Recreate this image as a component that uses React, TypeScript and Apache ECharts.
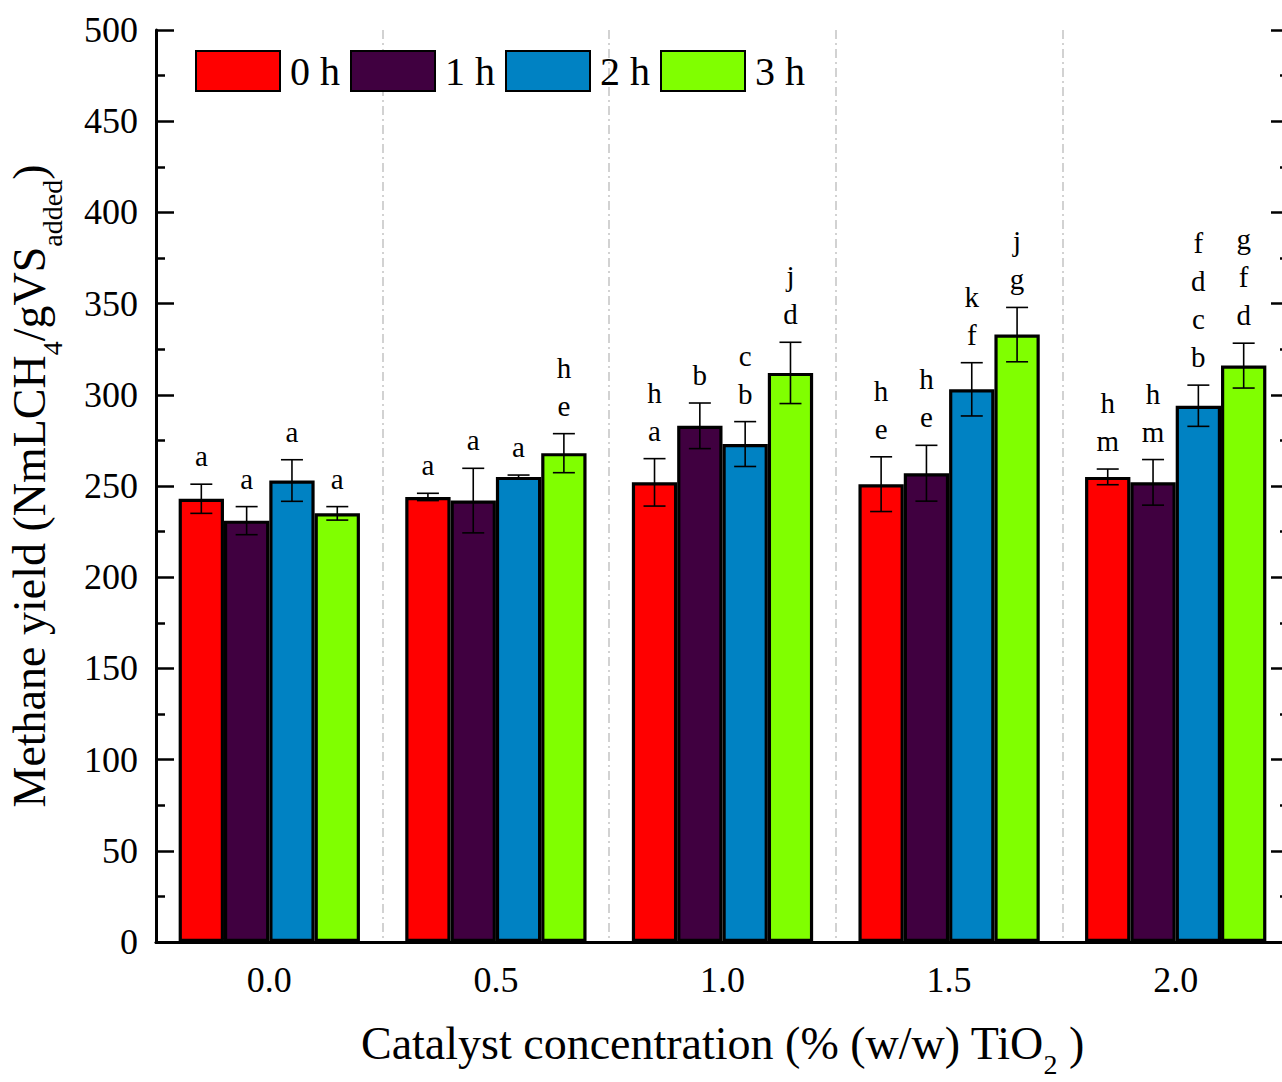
import React, { useEffect, useRef } from "react";
import * as echarts from "echarts";

const categories = ["0.0", "0.5", "1.0", "1.5", "2.0"];
const seriesNames = ["0 h", "1 h", "2 h", "3 h"];
const colors = ["#FF0000", "#400040", "#0082C3", "#80FF00"];

const yield0h = [243, 244, 252, 251, 255];
const yield1h = [231, 242, 283, 257, 252];
const yield2h = [253, 255, 273, 303, 294];
const yield3h = [235, 268, 312, 333, 316];

const err0h = [8, 2, 13, 15, 4.3];
const err1h = [7.7, 17.7, 12.5, 15.3, 12.5];
const err2h = [11.4, 1, 12.3, 14.6, 11.3];
const err3h = [3.7, 10.7, 16.8, 14.9, 12.3];

const letters0h = ["a", "a", "h\na", "h\ne", "h\nm"];
const letters1h = ["a", "a", "b", "h\ne", "h\nm"];
const letters2h = ["a", "a", "c\nb", "k\nf", "f\nd\nc\nb"];
const letters3h = ["a", "h\ne", "j\nd", "j\ng", "g\nf\nd"];

const yTicks = { min: 0, max: 500, interval: 50 };

const FONT = "'Liberation Serif', 'Times New Roman', serif";

export default function App() {
  const ref = useRef<HTMLDivElement>(null);

  useEffect(() => {
    if (!ref.current) return;
    const chart = echarts.init(ref.current, undefined, { renderer: "svg" });

    const values = [yield0h, yield1h, yield2h, yield3h];
    const errs = [err0h, err1h, err2h, err3h];
    const letters = [letters0h, letters1h, letters2h, letters3h];
    const nSeries = values.length;
    const catGap = 0.2;

    const errData: any[] = [];
    values.forEach((vals, s) => {
      vals.forEach((v, c) => {
        errData.push([c, v, errs[s][c], s, letters[s][c]]);
      });
    });

    const barSeries = values.map((vals, s) => ({
      name: seriesNames[s],
      type: "bar",
      data: vals,
      barGap: "0%",
      barCategoryGap: "20%",
      itemStyle: { color: colors[s], borderColor: "#000", borderWidth: 3.2 },
      z: 2,
    }));

    const errSeries = {
      type: "custom",
      z: 10,
      silent: true,
      data: errData,
      encode: { x: 0, y: 1 },
      renderItem: (params: any, api: any) => {
        const c = api.value(0);
        const v = api.value(1);
        const e = api.value(2);
        const s = api.value(3);
        const label = errData[params.dataIndex][4];
        const band = api.size([1, 0])[0];
        const barW = (band * (1 - catGap)) / nSeries;
        const center = api.coord([c, v]);
        const cx = center[0] + (s - (nSeries - 1) / 2) * barW;
        const top = api.coord([c, v + e])[1];
        const bot = api.coord([c, v - e])[1];
        const cap = 11;
        const ls = { stroke: "#000", lineWidth: 1.6 };
        return {
          type: "group",
          children: [
            { type: "line", shape: { x1: cx, y1: top, x2: cx, y2: bot }, style: ls },
            { type: "line", shape: { x1: cx - cap, y1: top, x2: cx + cap, y2: top }, style: ls },
            { type: "line", shape: { x1: cx - cap, y1: bot, x2: cx + cap, y2: bot }, style: ls },
            {
              type: "text",
              x: cx,
              y: top - 9,
              style: {
                text: label,
                fill: "#000",
                font: `29px ${FONT}`,
                fontSize: 29,
                fontFamily: FONT,
                lineHeight: 38,
                align: "center",
                textAlign: "center",
                verticalAlign: "bottom",
                textVerticalAlign: "bottom",
              },
            },
          ],
        };
      },
    };

    const yAxisCommon = {
      type: "value",
      min: yTicks.min,
      max: yTicks.max,
      interval: yTicks.interval,
      splitLine: { show: false },
      axisLine: { show: true, lineStyle: { color: "#000", width: 3 } },
      axisTick: { show: true, inside: true, length: 18, lineStyle: { color: "#000", width: 2.5 } },
      minorTick: { show: true, splitNumber: 2, length: 9, lineStyle: { color: "#000", width: 2.5 } },
    };

    const subRichX = {
      sub: { fontSize: 28, fontFamily: FONT, color: "#000", verticalAlign: "bottom", lineHeight: 70 },
    };
    const subRichY = {
      sub: { fontSize: 28, fontFamily: FONT, color: "#000", verticalAlign: "bottom", lineHeight: 74 },
    };

    chart.setOption({
      animation: false,
      backgroundColor: "#fff",
      textStyle: { fontFamily: FONT },
      grid: {
        left: 156,
        top: 30,
        right: 21,
        bottom: 140,
        containLabel: false,
        outerBoundsMode: "none",
      },
      legend: {
        data: seriesNames.map((n) => ({ name: n, icon: "rect" })),
        left: 190,
        top: 45,
        itemWidth: 84,
        itemHeight: 40,
        itemGap: 10,
        textStyle: { fontSize: 40, fontFamily: FONT, color: "#000", padding: [0, 0, 0, 5] },
        selectedMode: false,
      },
      xAxis: [
        {
          type: "category",
          data: categories,
          position: "bottom",
          axisLine: { show: true, lineStyle: { color: "#000", width: 3 } },
          axisTick: { show: false },
          axisLabel: { fontSize: 36, fontFamily: FONT, color: "#000", margin: 20 },
          splitLine: {
            show: true,
            lineStyle: { color: "#c4c4c4", width: 1.5, type: [9, 4, 2, 4] },
          },
          name: "Catalyst concentration (% (w/w) TiO{sub|2} )",
          nameLocation: "middle",
          nameGap: 66,
          nameTextStyle: {
            fontSize: 46,
            fontFamily: FONT,
            color: "#000",
            rich: subRichX,
          },
        },
        {
          type: "category",
          data: categories,
          position: "top",
          axisLine: { show: true, lineStyle: { color: "#000", width: 2.5 } },
          axisTick: { show: false },
          axisLabel: { show: false },
          splitLine: { show: false },
        },
      ],
      yAxis: [
        {
          ...yAxisCommon,
          position: "left",
          axisLabel: { fontSize: 36, fontFamily: FONT, color: "#000", margin: 18 },
          name: "Methane yield (NmLCH{sub|4}/gVS{sub|added})",
          nameLocation: "middle",
          nameGap: 90,
          nameTextStyle: {
            fontSize: 46,
            fontFamily: FONT,
            color: "#000",
            rich: subRichY,
          },
        },
        {
          ...yAxisCommon,
          position: "right",
          axisLabel: { show: false },
        },
      ],
      series: [...barSeries, errSeries],
    });

    return () => chart.dispose();
  }, []);

  return (
    <div style={{ position: "fixed", left: 0, top: 0, width: 1282, height: 1082, overflow: "hidden", background: "#fff" }}>
      <div ref={ref} style={{ width: 1310, height: 1082 }} />
    </div>
  );
}
